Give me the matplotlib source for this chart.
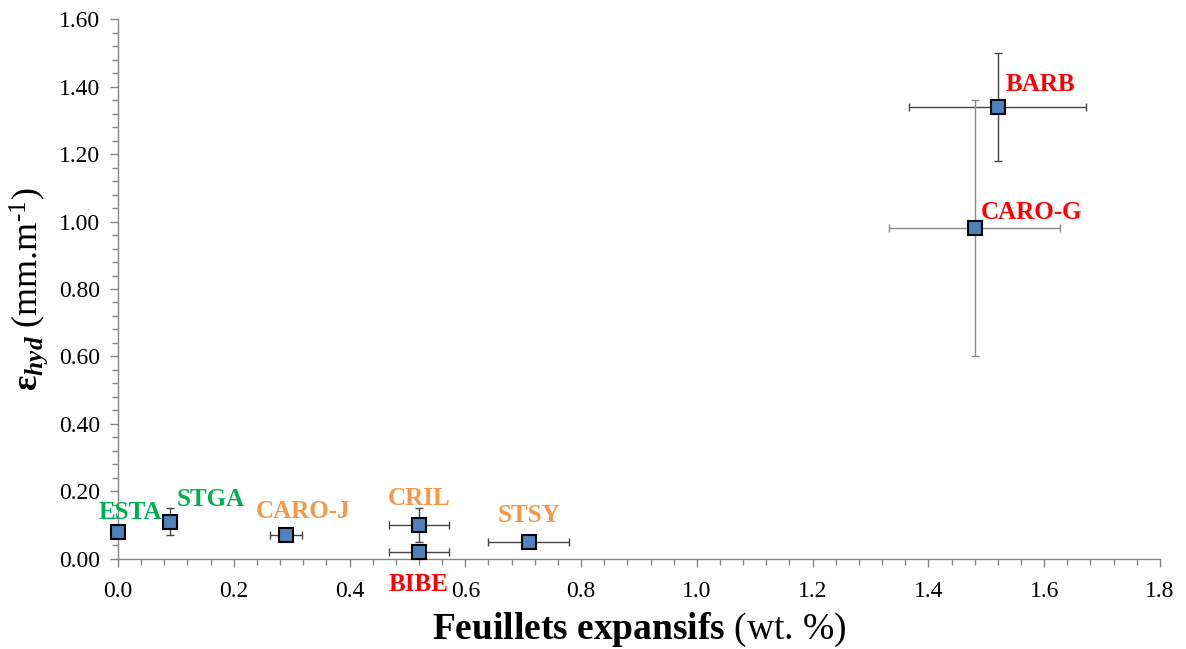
#!/usr/bin/env python3
"""Deformation vs expansive sheet content, scatter with error bars"""

import matplotlib
matplotlib.use("Agg")
import matplotlib.pyplot as plt
from matplotlib.ticker import MultipleLocator, FormatStrFormatter

## data ##
names = ["ESTA", "STGA", "CARO-J", "CRIL", "BIBE", "STSY", "BARB", "CARO-G"]
feuillets = [0.0, 0.09, 0.29, 0.52, 0.52, 0.71, 1.52, 1.48]
eps_hyd = [0.08, 0.11, 0.07, 0.10, 0.02, 0.05, 1.34, 0.98]
x_err = [0.0, 0.0, 0.028, 0.052, 0.052, 0.07, 0.153, 0.148]
y_err = [0.0, 0.04, 0.0, 0.05, 0.0, 0.0, 0.16, 0.38]
groups = ["g", "g", "o", "o", "r", "o", "r", "r"]

colours = {"g": "#00B050", "o": "#F79646", "r": "#FF0000"}
# label offsets in points from each marker
offsets = [(9, 14), (29, 16), (12, 17), (0, 19), (0, -23), (0, 19), (31, 16), (41, 11)]


def main():
    plt.rcParams["font.family"] = "Liberation Serif"
    plt.rcParams["mathtext.fontset"] = "custom"
    plt.rcParams["mathtext.rm"] = "Liberation Serif"
    plt.rcParams["mathtext.it"] = "Liberation Serif:italic"
    plt.rcParams["mathtext.bf"] = "Liberation Serif:bold"
    plt.rcParams["mathtext.bfit"] = "Liberation Serif:bold:italic"

    fig = plt.figure(figsize=(11.86, 6.49), dpi=100)
    ax = fig.add_axes([0.0995, 0.1387, 0.8785, 0.832])

    for i in range(len(names)):
        ecol = "#8a8a8a" if names[i] == "CARO-G" else "#444444"
        ax.errorbar(feuillets[i], eps_hyd[i],
                    xerr=x_err[i] if x_err[i] > 0 else None,
                    yerr=y_err[i] if y_err[i] > 0 else None,
                    fmt="none", ecolor=ecol, elinewidth=1.0,
                    capsize=3, capthick=1.0, zorder=2)
    ax.plot(feuillets, eps_hyd, "s", ms=10, mfc="#4F81BD", mec="black",
            mew=1.5, zorder=3, clip_on=False)

    for i, name in enumerate(names):
        ax.annotate(name, (feuillets[i], eps_hyd[i]), xytext=offsets[i],
                    textcoords="offset points", ha="center", va="center",
                    fontsize=18, fontweight="bold", color=colours[groups[i]],
                    annotation_clip=False)

    ax.set_xlim(0, 1.8)
    ax.set_ylim(0, 1.6)
    ax.xaxis.set_major_locator(MultipleLocator(0.2))
    ax.xaxis.set_minor_locator(MultipleLocator(0.04))
    ax.yaxis.set_major_locator(MultipleLocator(0.2))
    ax.yaxis.set_minor_locator(MultipleLocator(0.04))
    ax.xaxis.set_major_formatter(FormatStrFormatter("%.1f"))
    ax.yaxis.set_major_formatter(FormatStrFormatter("%.2f"))

    for side in ["top", "right"]:
        ax.spines[side].set_visible(False)
    for side in ["left", "bottom"]:
        ax.spines[side].set_color("#868686")
        ax.spines[side].set_linewidth(1.0)
    ax.tick_params(which="major", direction="out", length=6, width=1,
                   color="#868686", labelsize=17)
    ax.tick_params(which="minor", direction="out", length=4, width=1,
                   color="#868686")
    ax.tick_params(axis="x", which="major", pad=10)
    ax.tick_params(axis="y", which="major", pad=7)

    ax.set_xlabel(r"$\mathbf{Feuillets\ expansifs}$ (wt. %)", fontsize=27,
                  labelpad=6)
    ax.set_ylabel(r"$\boldsymbol{\varepsilon}_{\mathbfit{hyd}}$ (mm.m$^{\text{-1}}$)",
                  fontsize=26, labelpad=6)

    fig.savefig("out.png", dpi=100)


if __name__ == "__main__":
    main()
